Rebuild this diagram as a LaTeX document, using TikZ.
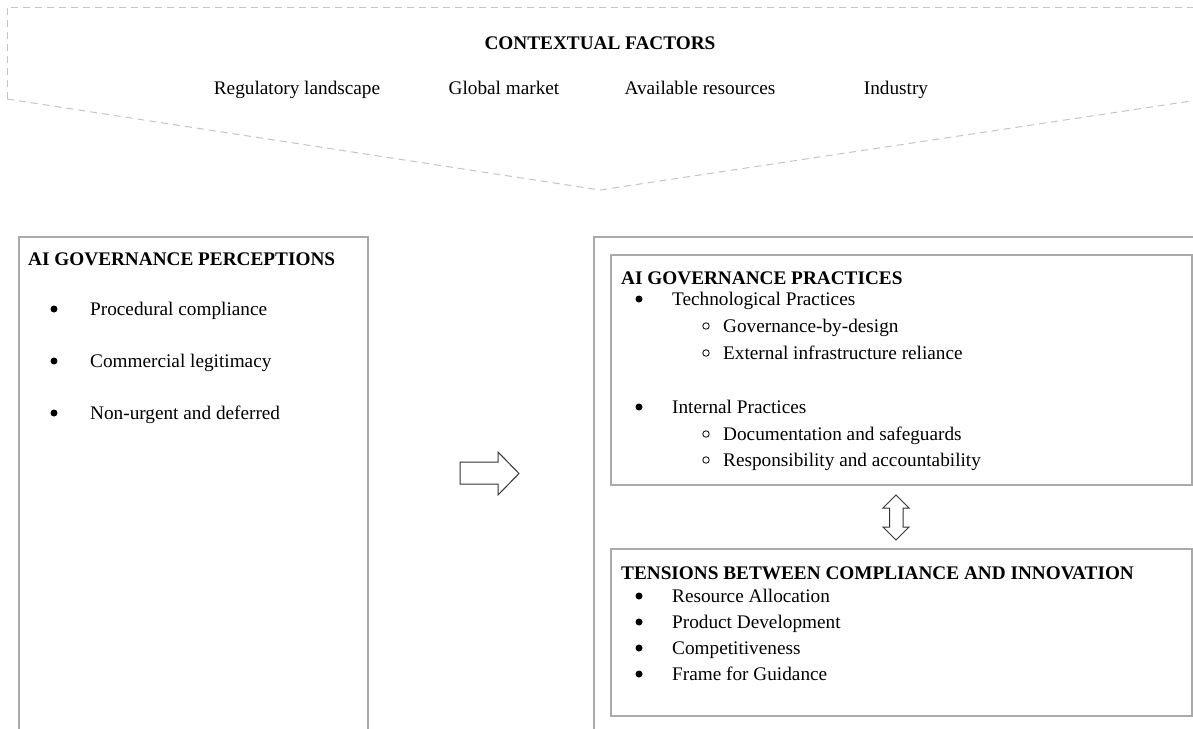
\documentclass[tikz,border=0pt]{standalone}
\usepackage{fontspec}
\setmainfont{Liberation Serif}
\definecolor{boxgray}{HTML}{AAAAAA}
\definecolor{dashgray}{HTML}{C4C4C4}
\definecolor{arrowgray}{HTML}{333333}
\begin{document}
\begin{tikzpicture}[x=1pt,y=-1pt,
  txt/.style={inner sep=0pt,anchor=base west,font=\fontsize{19.25}{23}\selectfont},
  head/.style={txt,font=\fontsize{19.25}{23}\selectfont\bfseries},
  frame/.style={draw=boxgray,line width=1.2pt},
  panel/.style={frame,rectangle,inner sep=0pt},
  dot/.style={circle,fill=black,inner sep=0pt,minimum size=7pt},
  ring/.style={circle,draw=black,line width=0.8pt,inner sep=0pt,minimum size=6.5pt},
  bigarrow/.style={draw=arrowgray,line width=1pt,fill=white,line join=miter}]
\useasboundingbox (0,0) rectangle (1193,728);
\clip (0,0) rectangle (1193,728);

% contextual factors banner (dashed pentagon)
\coordinate (cfTL) at (7,7);
\coordinate (cfBL) at (7,99);
\coordinate (cfTip) at (600,190);
\draw[dashgray,line width=1pt,dash pattern=on 7pt off 5pt]
  (cfBL) -- (cfTL) -- (1215,7);
\draw[dashgray,line width=1pt,dash pattern=on 7pt off 5pt]
  (cfBL) -- (cfTip) -- (1215,97.4);
\node[head,anchor=base] (cfTitle) at (600,49) {CONTEXTUAL FACTORS};
\node[txt,anchor=base] (cf1) at (297,94) {Regulatory landscape};
\node[txt,anchor=base] (cf2) at (504,94) {Global market};
\node[txt,anchor=base] (cf3) at (700,94) {Available resources};
\node[txt,anchor=base] (cf4) at (896,94) {Industry};

% perceptions panel (runs past the lower edge)
\draw[frame] (19,745) -- (19,237) -- (368,237) -- (368,745);
\node[head] (percTitle) at (28,265) {AI GOVERNANCE PERCEPTIONS};
\node[dot] (pb1) at (54,309) {};
\node[txt] (p1) at (90,315) {Procedural compliance};
\node[dot] (pb2) at (54,361) {};
\node[txt] (p2) at (90,367) {Commercial legitimacy};
\node[dot] (pb3) at (54,413) {};
\node[txt] (p3) at (90,419) {Non-urgent and deferred};

% outer panel on the right (runs past the right and lower edges)
\draw[frame] (594,745) -- (594,237) -- (1215,237);

% practices box
\node[panel,minimum width=581pt,minimum height=230pt] (practices) at (901.5,370) {};
\node[head] (pracTitle) at (621,284) {AI GOVERNANCE PRACTICES};
\node[dot] (tb1) at (639,299) {};
\node[txt] (t1) at (672,305) {Technological Practices};
\node[ring] (tr1) at (706,326) {};
\node[txt] (t1a) at (723,332) {Governance-by-design};
\node[ring] (tr2) at (706,353) {};
\node[txt] (t1b) at (723,359) {External infrastructure reliance};
\node[dot] (tb2) at (639,407) {};
\node[txt] (t2) at (672,413) {Internal Practices};
\node[ring] (tr3) at (706,434) {};
\node[txt] (t2a) at (723,440) {Documentation and safeguards};
\node[ring] (tr4) at (706,460) {};
\node[txt] (t2b) at (723,466) {Responsibility and accountability};

% tensions box
\node[panel,minimum width=581pt,minimum height=167pt] (tensions) at (901.5,632.5) {};
\node[head] (tensTitle) at (621,579) {TENSIONS BETWEEN COMPLIANCE AND INNOVATION};
\node[dot] (sb1) at (639,596) {};
\node[txt] (s1) at (672,602) {Resource Allocation};
\node[dot] (sb2) at (639,622) {};
\node[txt] (s2) at (672,628) {Product Development};
\node[dot] (sb3) at (639,648) {};
\node[txt] (s3) at (672,654) {Competitiveness};
\node[dot] (sb4) at (639,674) {};
\node[txt] (s4) at (672,680) {Frame for Guidance};

% block arrow from perceptions to the right panel
\draw[bigarrow] (460,462) -- (498,462) -- (498,452) -- (519,473.5)
  -- (498,495) -- (498,484) -- (460,484) -- cycle;

% two-way block arrow between practices and tensions
\draw[bigarrow] (896,495) -- (909,508) -- (903,508) -- (903,527) -- (909,527)
  -- (896,540) -- (883,527) -- (889.5,527) -- (889.5,508) -- (883,508) -- cycle;
\end{tikzpicture}
\end{document}
